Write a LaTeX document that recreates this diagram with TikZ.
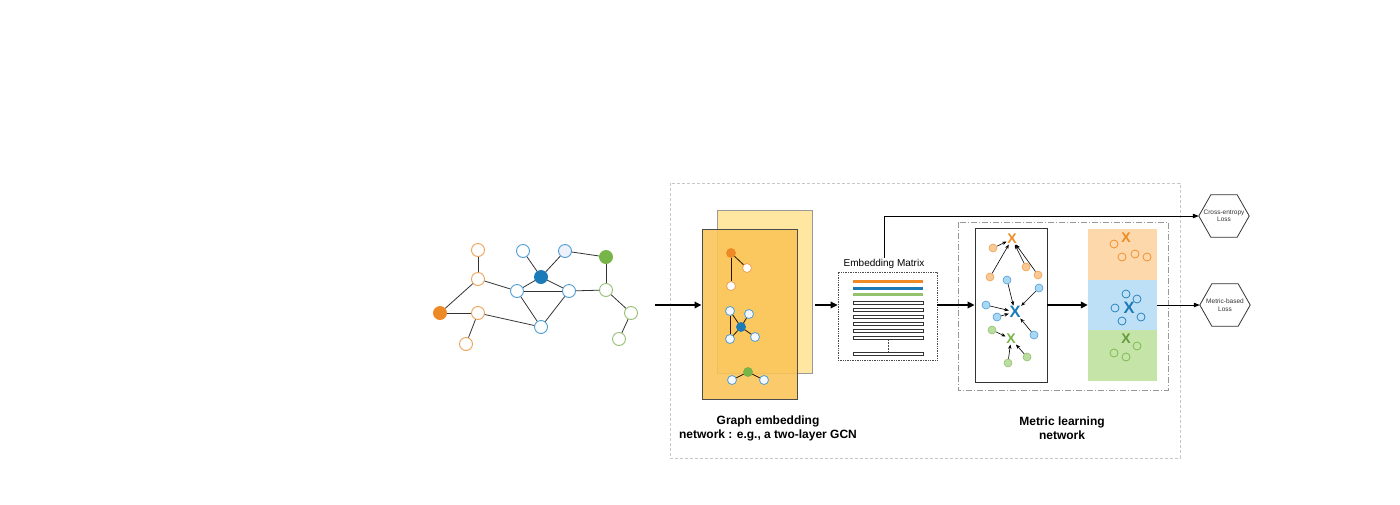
\documentclass[tikz,border=0pt]{standalone}
\usepackage{fontspec}
\setmainfont{Liberation Sans}
\usetikzlibrary{arrows.meta}
\definecolor{ora}{HTML}{EE8A26}
\definecolor{oraL}{HTML}{EFA055}
\definecolor{blu}{HTML}{1B7AB8}
\definecolor{bluL}{HTML}{4D9ED4}
\definecolor{grn}{HTML}{78B548}
\definecolor{grnL}{HTML}{96BF72}
\definecolor{lav}{HTML}{EEF0FA}
\definecolor{edg}{HTML}{333333}
\definecolor{gcnB}{HTML}{FFE7A2}
\definecolor{gcnF}{HTML}{FBC457}
\definecolor{colO}{HTML}{FDD8AA}
\definecolor{colB}{HTML}{BEE0F6}
\definecolor{colG}{HTML}{C4E4A8}
\definecolor{mcO}{HTML}{F8C994}
\definecolor{mcB}{HTML}{A9D8F4}
\definecolor{mcG}{HTML}{BADDA0}
\begin{document}
\begin{tikzpicture}[x=1pt,y=-1pt,
  gn/.style={circle,draw,fill=white,minimum size=13pt,inner sep=0pt,line width=0.9pt},
  sn/.style={circle,draw,fill=white,minimum size=9pt,inner sep=0pt,line width=0.8pt},
  mc/.style={circle,draw,minimum size=8pt,inner sep=0pt,line width=0.6pt},
  gedge/.style={draw=edg,line width=0.8pt},
  sedge/.style={draw=black!75!orange!60!black,line width=0.8pt},
  bigarr/.style={line width=1.7pt,-{Triangle[length=7pt,width=6.5pt]}},
  thinarr/.style={line width=0.8pt,-{Triangle[length=6pt,width=4.5pt]}},
  sarr/.style={line width=0.6pt,-{Stealth[length=4.5pt,width=3.5pt]}},
  xl/.style={inner sep=0.5pt,font=\fontsize{14}{14}\selectfont\bfseries},
  xlb/.style={inner sep=0.5pt,font=\fontsize{16.5}{16.5}\selectfont\bfseries},
  hexa/.style={minimum width=50pt,minimum height=42pt,inner sep=0pt,align=center,font=\fontsize{6.5}{7.5}\selectfont,text=edg},
  hexline/.style={draw=edg,line width=0.8pt,line join=round},
  lbl/.style={align=center,font=\fontsize{12}{14}\selectfont\bfseries}
]
\useasboundingbox (0,0) rectangle (1400,504);

% outer dashed frame
\draw[black!22,line width=0.7pt,dash pattern=on 3pt off 2pt] (670,183) rectangle (1180,458);

% ---------------- input graph ----------------
\node[gn,draw=oraL] (o1) at (478,250) {};
\node[gn,draw=oraL] (o2) at (478,279) {};
\node[gn,draw=ora,fill=ora] (o3) at (440,313) {};
\node[gn,draw=oraL] (o4) at (478,313) {};
\node[gn,draw=oraL] (o5) at (466,344) {};
\node[gn,draw=bluL] (b1) at (523,251) {};
\node[gn,draw=bluL,fill=lav] (b2) at (565,251) {};
\node[gn,draw=blu,fill=blu] (b3) at (541,277) {};
\node[gn,draw=bluL] (b4) at (517,291) {};
\node[gn,draw=bluL] (b5) at (569,291) {};
\node[gn,draw=bluL] (b6) at (541,327) {};
\node[gn,draw=grn,fill=grn] (g1) at (606,257) {};
\node[gn,draw=grnL] (g2) at (606,290) {};
\node[gn,draw=grnL] (g3) at (631,313) {};
\node[gn,draw=grnL] (g4) at (619,339) {};
\foreach \a/\b in {o1/o2,o2/o3,o2/b4,o3/o4,o4/o5,o4/b6,b1/b3,b2/b3,b3/b4,b3/b5,b4/b5,b4/b6,b5/b6,b2/g1,g1/g2,b5/g2,g2/g3,g3/g4}
  \draw[gedge] (\a) -- (\b);

% ---------------- GCN ----------------
\node[draw=black!40,fill=gcnB,line width=0.8pt,minimum width=95pt,minimum height=163pt,inner sep=0pt] (gback) at (764.5,291.5) {};
\node[draw=black!70,fill=gcnF,fill opacity=0.88,line width=1pt,minimum width=95pt,minimum height=170pt,inner sep=0pt] (gcn) at (749.5,314) {};
\node[sn,draw=ora,fill=ora] (s1) at (731,253) {};
\node[sn,draw=oraL] (s2) at (747,268) {};
\node[sn,draw=oraL] (s3) at (731,286) {};
\draw[sedge] (s1) -- (s2); \draw[sedge] (s1) -- (s3);
\node[sn,draw=bluL,fill=blue!3] (t1) at (730,311) {};
\node[sn,draw=bluL,fill=blue!3] (t2) at (749,314) {};
\node[sn,draw=blu,fill=blu] (t3) at (741,327) {};
\node[sn,draw=bluL,fill=blue!3] (t4) at (730,339) {};
\node[sn,draw=bluL,fill=blue!3] (t5) at (755,337) {};
\foreach \b in {t1,t2,t4,t5} \draw[sedge] (t3) -- (\b);
\draw[sedge] (t1) -- (t4);
\node[sn,draw=grn,fill=grn] (u1) at (748,372) {};
\node[sn,draw=bluL,fill=blue!3] (u2) at (732,380) {};
\node[sn,draw=bluL,fill=blue!3] (u3) at (764,380) {};
\draw[sedge] (u1) -- (u2); \draw[sedge] (u1) -- (u3);

\coordinate (ay) at (0,305);
\coordinate (a1s) at (655,305);
\draw[bigarr] (a1s) -- (a1s -| gcn.west);

% ---------------- embedding matrix ----------------
\node[draw=black!70,densely dotted,line width=0.7pt,minimum width=99pt,minimum height=88pt,inner sep=0pt] (mat) at (887.5,316) {};
\node[font=\fontsize{10}{10}\selectfont,inner sep=1pt] (emlab) at (884,264) {Embedding Matrix};
\coordinate (a2s) at (815,305);
\draw[bigarr] (a2s) -- (a2s -| mat.west);
\fill[ora] (853,279.5) rectangle (923,282.5);
\fill[blu] (853,286.5) rectangle (923,289.5);
\fill[grn!80] (853,293) rectangle (923,296);
\foreach \yy in {301,308,315,322,329,336,352}
  \draw[black!80,line width=0.6pt,fill=white] (853,\yy) rectangle (923,\yy+3.5);
\draw[black!70,densely dotted,line width=0.5pt] (888,340) -- (888,351);

% ---------------- metric learning ----------------
\draw[black!40,line width=0.7pt,dash pattern=on 6pt off 2pt on 1pt off 2pt] (958,222) rectangle (1168,390);
\node[draw=black!80,line width=0.8pt,minimum width=72pt,minimum height=154pt,inner sep=0pt] (inner) at (1011,305) {};
\draw[bigarr] (mat.east |- ay) -- (inner.west |- ay);

\node[xl,text=ora] (xo) at (1012,239) {X};
\node[mc,draw=oraL,fill=mcO] (mo1) at (993,248) {};
\node[mc,draw=oraL,fill=mcO] (mo2) at (990,277) {};
\node[mc,draw=oraL,fill=mcO] (mo3) at (1026,267) {};
\node[mc,draw=oraL,fill=mcO] (mo4) at (1038,275) {};
\foreach \c in {mo1,mo2,mo3,mo4} \draw[sarr] (\c) -- (xo);

\node[xlb,text=blu] (xb) at (1015,312) {X};
\node[mc,draw=bluL,fill=mcB] (mb1) at (1007,280) {};
\node[mc,draw=bluL,fill=mcB] (mb2) at (1039,288) {};
\node[mc,draw=bluL,fill=mcB] (mb3) at (986,305) {};
\node[mc,draw=bluL,fill=mcB] (mb4) at (997,317) {};
\node[mc,draw=bluL,fill=mcB] (mb5) at (1034,335) {};
\foreach \c in {mb1,mb2,mb3,mb4,mb5} \draw[sarr] (\c) -- (xb);

\node[xl,text=grn] (xg) at (1011,339) {X};
\node[mc,draw=grnL,fill=mcG] (mg1) at (992,330) {};
\node[mc,draw=grnL,fill=mcG] (mg2) at (1008,363) {};
\node[mc,draw=grnL,fill=mcG] (mg3) at (1027,357) {};
\foreach \c in {mg1,mg2,mg3} \draw[sarr] (\c) -- (xg);

% columns
\node[fill=colO,minimum width=69pt,minimum height=51pt,inner sep=0pt] (cO) at (1122.5,254.5) {};
\node[fill=colB,minimum width=69pt,minimum height=50pt,inner sep=0pt] (cB) at (1122.5,305) {};
\node[fill=colG,minimum width=69pt,minimum height=51pt,inner sep=0pt] (cG) at (1122.5,355.5) {};
\draw[bigarr] (inner.east |- ay) -- (cB.west |- ay);

\node[xl,text=ora] (cxo) at (1126,238) {X};
\foreach \p in {(1114,244),(1122,257),(1135,254),(1147,257)}
  \node[mc,draw=ora,line width=0.7pt] at \p {};
\node[xlb,text=blu] (cxb) at (1129,308) {X};
\foreach \p in {(1126,294),(1137,299),(1115,308),(1122,321),(1141,317)}
  \node[mc,draw=blu,line width=0.7pt] at \p {};
\node[xl,text=grn!85!black] (cxg) at (1126,339) {X};
\foreach \p in {(1137,346),(1114,353),(1126,357)}
  \node[mc,draw=grn,line width=0.7pt] at \p {};

% ---------------- losses ----------------
\node[hexa] (ce) at (1224,216) {Cross-entropy\\Loss};
\draw[hexline] (ce.west) -- ([xshift=12pt]ce.north west) -- ([xshift=-12pt]ce.north east) -- (ce.east) -- ([xshift=-12pt]ce.south east) -- ([xshift=12pt]ce.south west) -- cycle;
\node[hexa] (ml) at (1225,305) {Metric-based\\Loss};
\draw[hexline] (ml.west) -- ([xshift=12pt]ml.north west) -- ([xshift=-12pt]ml.north east) -- (ml.east) -- ([xshift=-12pt]ml.south east) -- ([xshift=12pt]ml.south west) -- cycle;
\draw[thinarr] (emlab.north) |- (ce.west);
\draw[thinarr] (cB.east |- ay) -- (ml.west);

% ---------------- labels ----------------
\node[lbl] (l1) at (768,428) {Graph embedding\\network : e.g., a two-layer GCN};
\node[lbl] (l2) at (1062,428) {Metric learning\\network};
\end{tikzpicture}
\end{document}
